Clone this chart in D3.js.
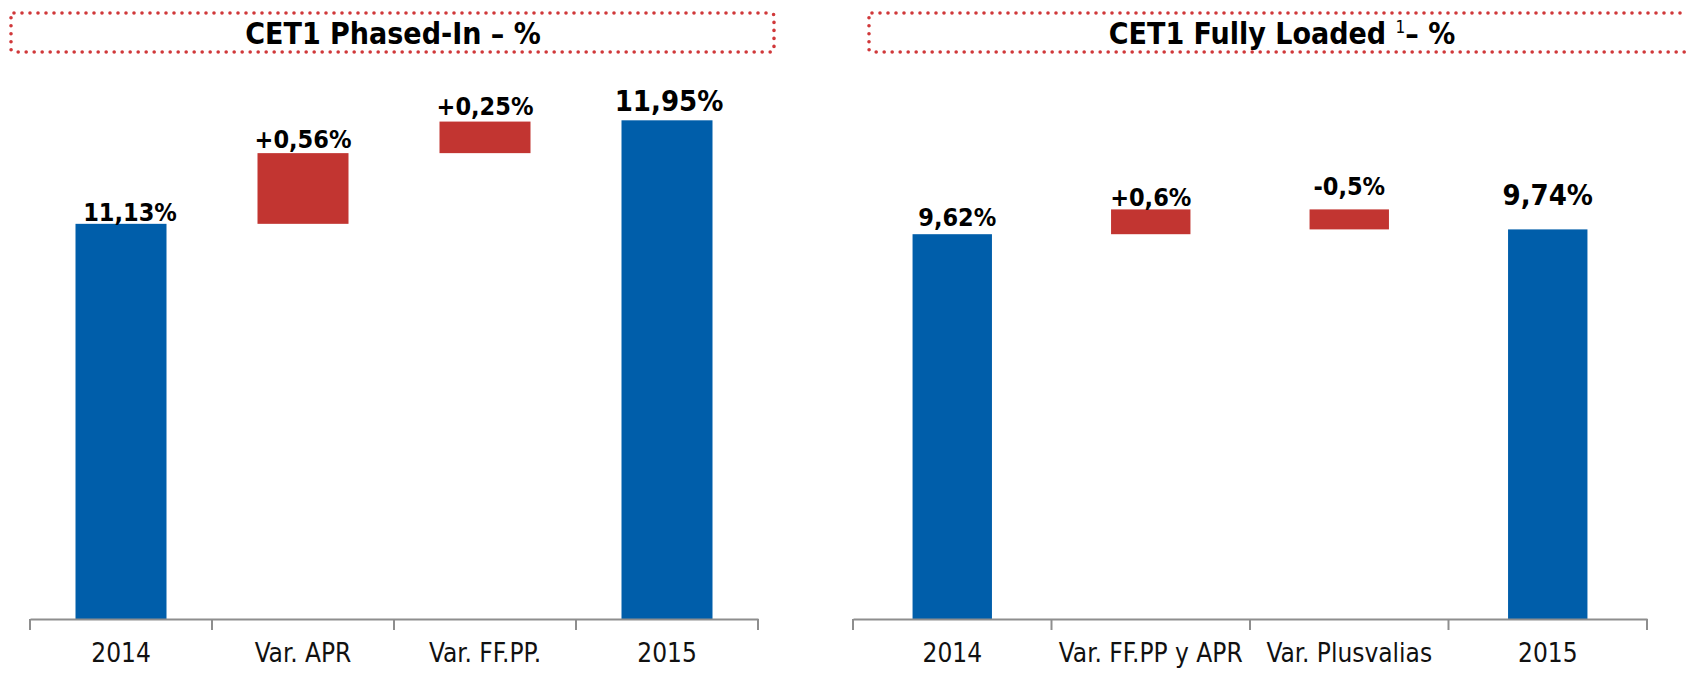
<!DOCTYPE html>
<html><head><meta charset="utf-8">
<script src="https://cdn.jsdelivr.net/npm/d3@7"></script>
<style>
body{margin:0;background:#fff;}
svg text{font-family:"DejaVu Sans Condensed","DejaVu Sans",sans-serif;font-stretch:condensed;}
</style></head><body>
<svg id="chart" width="1686" height="688"></svg>
<script>
// ---- data ----
const leftTitle = "CET1 Phased-In – %";
const leftCategories = ["2014", "Var. APR", "Var. FF.PP.", "2015"];
const leftValues = [11.13, 0.56, 0.25, 11.95];
const leftKinds = ["total", "delta", "delta", "total"];
const leftLabels = ["11,13%", "+0,56%", "+0,25%", "11,95%"];
const leftYDomain = [8, 12];

const rightTitle = "CET1 Fully Loaded ";
const rightTitleSup = "1";
const rightTitleTail = "– %";
const rightCategories = ["2014", "Var. FF.PP y APR", "Var. Plusvalias", "2015"];
const rightValues = [9.62, 0.62, -0.50, 9.74];
const rightKinds = ["total", "delta", "delta", "total"];
const rightLabels = ["9,62%", "+0,6%", "-0,5%", "9,74%"];
const rightYDomain = [0, 12];

// ---- style / layout ----
const BLUE = "#005EAA", RED = "#C23531", AXIS = "#8e8e8e", DOT = "#D0383A";
const svg = d3.select("#chart");

function waterfall(values, kinds) {
  let run = 0;
  return values.map((v, i) => {
    if (kinds[i] === "total") { run = v; return {lo: 0, hi: v, kind: "total"}; }
    const a = run, b = run + v; run = b;
    return {lo: Math.min(a, b), hi: Math.max(a, b), kind: "delta"};
  });
}

function panel(cfg) {
  const g = svg.append("g");
  // title box
  g.append("rect")
    .attr("x", cfg.box[0]).attr("y", cfg.box[1])
    .attr("width", cfg.box[2] - cfg.box[0]).attr("height", cfg.box[3] - cfg.box[1])
    .attr("rx", 3).attr("fill", "none").attr("stroke", DOT)
    .attr("stroke-width", 3.6).attr("stroke-linecap", "round")
    .attr("stroke-dasharray", "0 8");
  const t = g.append("text").attr("x", cfg.titleX).attr("y", 44)
    .attr("text-anchor", "middle").attr("font-size", 30).attr("font-weight", "bold")
    .attr("fill", "#000");
  t.append("tspan").text(cfg.title);
  if (cfg.sup) {
    t.append("tspan").text(cfg.sup).attr("font-size", 17).attr("font-weight", "normal").attr("dy", -11);
    t.append("tspan").text(cfg.tail).attr("dy", 11);
  }

  const x = d3.scaleBand().domain(cfg.categories).range(cfg.xRange).padding(0);
  const y = d3.scaleLinear().domain(cfg.yDomain).range(cfg.yRange);
  const bw = x.bandwidth() * cfg.barFrac;
  const segs = waterfall(cfg.values, cfg.kinds);

  g.selectAll("rect.bar").data(segs).join("rect").attr("class", "bar")
    .attr("x", (d, i) => x(cfg.categories[i]) + (x.bandwidth() - bw) / 2)
    .attr("width", bw)
    .attr("y", d => y(Math.min(d.hi, cfg.yDomain[1])))
    .attr("height", d => y(Math.max(d.lo, cfg.yDomain[0])) - y(d.hi))
    .attr("fill", d => d.kind === "total" ? BLUE : RED);

  // axis
  const axis = d3.axisBottom(x).tickSize(0).tickFormat(d => d);
  const ag = g.append("g").attr("transform", `translate(0,${cfg.yRange[0]})`).call(axis);
  ag.select(".domain").attr("stroke", AXIS).attr("stroke-width", 2);
  ag.selectAll(".tick text").attr("font-size", 26).attr("fill", "#111").attr("dy", 0).attr("y", 43)
    .style("font-family", '"DejaVu Sans Condensed","DejaVu Sans",sans-serif');
  const bounds = cfg.categories.map(c => x(c)).concat([x(cfg.categories[cfg.categories.length - 1]) + x.bandwidth()]);
  ag.selectAll("line.sep").data(bounds).join("line").attr("class", "sep")
    .attr("x1", d => d).attr("x2", d => d).attr("y1", 0).attr("y2", 11)
    .attr("stroke", AXIS).attr("stroke-width", 2);

  // value labels
  g.selectAll("text.val").data(segs).join("text").attr("class", "val")
    .attr("x", (d, i) => x(cfg.categories[i]) + x.bandwidth() / 2 + cfg.labelDx[i])
    .attr("y", (d, i) => y(d.hi) + cfg.labelDy[i])
    .attr("text-anchor", "middle").attr("font-weight", "bold")
    .attr("font-size", (d, i) => cfg.labelSize[i]).attr("fill", "#000")
    .text((d, i) => cfg.labels[i]);
}

panel({
  title: leftTitle, box: [11, 13, 774, 52], titleX: 393,
  categories: leftCategories, values: leftValues, kinds: leftKinds, labels: leftLabels,
  yDomain: leftYDomain, xRange: [30, 758], yRange: [619, 114], barFrac: 0.5,
  labelDx: [9, 0, 0, 2], labelDy: [-3, -5, -7, -9], labelSize: [25, 25, 25, 29]
});
panel({
  title: rightTitle, sup: rightTitleSup, tail: rightTitleTail, box: [869, 13, 1700, 52], titleX: 1282,
  categories: rightCategories, values: rightValues, kinds: rightKinds, labels: rightLabels,
  yDomain: rightYDomain, xRange: [853, 1647], yRange: [619, 139], barFrac: 0.4,
  labelDx: [5, 0, 0, 0], labelDy: [-8, -3, -14, -24], labelSize: [25, 25, 25, 29]
});
</script>
</body></html>
